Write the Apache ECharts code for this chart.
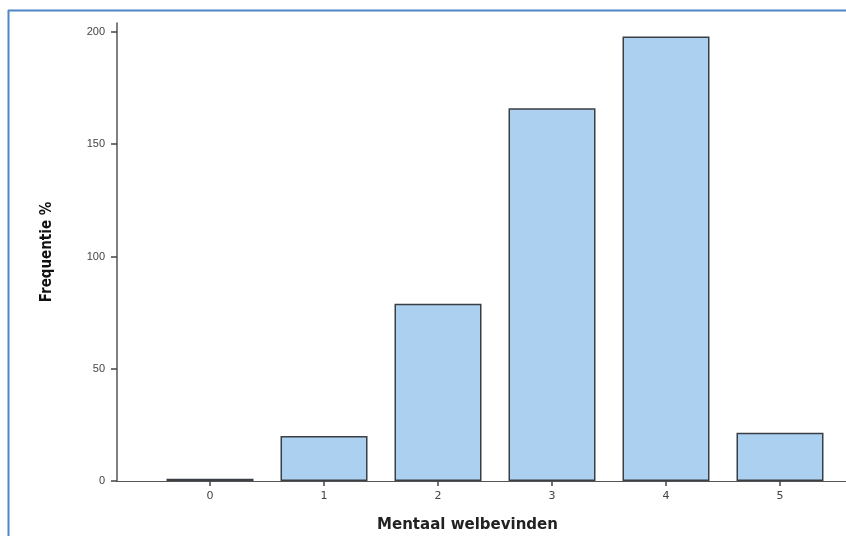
<!DOCTYPE html>
<html><head><meta charset="utf-8">
<script src="https://cdn.jsdelivr.net/npm/echarts@6/dist/echarts.min.js"></script>
<style>html,body{margin:0;padding:0;background:#fff}#c{width:846px;height:536px}</style>
</head><body><div id="c"></div>
<script>
const categories = [0, 1, 2, 3, 4, 5];
const frequencies = [1, 20, 79, 166, 198, 21.5];
const yTicks = [0, 50, 100, 150, 200];
const xTitle = 'Mentaal welbevinden';
const yTitle = 'Frequentie %';

const chart = echarts.init(document.getElementById('c'));
const narrow = '"Liberation Sans Narrow", "Arial Narrow", "DejaVu Sans Condensed", sans-serif';
chart.setOption({
  animation: false,
  grid: {left: 117, right: 0, top: 23, bottom: 55, outerBoundsMode: 'none', containLabel: false},
  xAxis: {
    type: 'value', min: -0.816, max: 5.579,
    splitLine: {show: false},
    axisLine: {show: true, onZero: false, lineStyle: {color: '#555', width: 1.2}},
    axisTick: {show: true, customValues: categories, length: 5, lineStyle: {color: '#444', width: 1.5}},
    axisLabel: {customValues: categories, color: '#444', fontSize: 11, margin: 10, fontFamily: 'DejaVu Sans'},
    name: xTitle, nameLocation: 'middle', nameGap: 37,
    nameTextStyle: {fontWeight: 'bold', fontSize: 15, color: '#222', fontFamily: 'DejaVu Sans', padding: [0, 28, 0, 0]}
  },
  yAxis: {
    type: 'value', min: 0, max: 204,
    splitLine: {show: false},
    axisLine: {show: true, onZero: false, lineStyle: {color: '#555', width: 1.5}},
    axisTick: {show: true, customValues: yTicks, length: 6, lineStyle: {color: '#444', width: 1.5}},
    axisLabel: {customValues: yTicks, color: '#444', fontSize: 11, margin: 12, fontFamily: 'Liberation Sans'},
    name: yTitle, nameLocation: 'middle', nameGap: 62, nameRotate: 90,
    nameTextStyle: {fontWeight: 'bold', fontSize: 15, color: '#111', fontFamily: narrow}
  },
  series: [{
    type: 'bar', barWidth: 87,
    data: categories.map((c, i) => [c, frequencies[i]]),
    itemStyle: {color: '#acd0ef', borderColor: '#3a3f45', borderWidth: 1.5}
  }],
  graphic: [
    {type: 'line', shape: {x1: 8, y1: 10.5, x2: 846, y2: 10.5}, style: {stroke: '#4f86c6', lineWidth: 2}},
    {type: 'line', shape: {x1: 8.5, y1: 10, x2: 8.5, y2: 536}, style: {stroke: '#4f86c6', lineWidth: 2}}
  ]
});
</script></body></html>
